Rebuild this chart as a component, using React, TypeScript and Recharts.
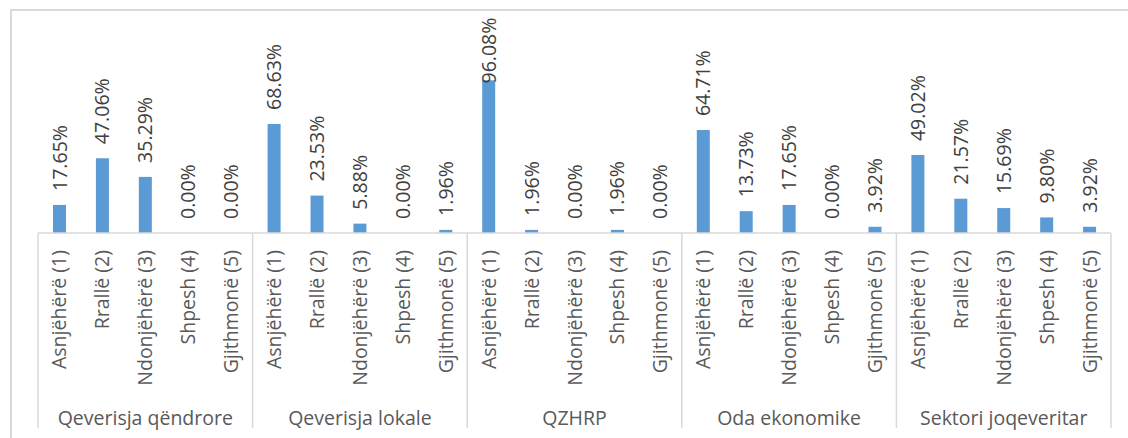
import { BarChart, Bar, XAxis, YAxis, LabelList } from 'recharts';

const groups = ['Qeverisja qëndrore', 'Qeverisja lokale', 'QZHRP', 'Oda ekonomike', 'Sektori joqeveritar'];
const categories = ['Asnjëhërë (1)', 'Rrallë (2)', 'Ndonjëhërë (3)', 'Shpesh (4)', 'Gjithmonë (5)'];

const qeverisjaQendrore = [17.65, 47.06, 35.29, 0.0, 0.0];
const qeverisjaLokale = [68.63, 23.53, 5.88, 0.0, 1.96];
const qzhrp = [96.08, 1.96, 0.0, 1.96, 0.0];
const odaEkonomike = [64.71, 13.73, 17.65, 0.0, 3.92];
const sektoriJoqeveritar = [49.02, 21.57, 15.69, 9.8, 3.92];

const seriesByGroup = [qeverisjaQendrore, qeverisjaLokale, qzhrp, odaEkonomike, sektoriJoqeveritar];

const data = groups.flatMap((g, gi) =>
  categories.map((c, ci) => ({ key: `${gi}-${ci}`, group: g, cat: c, value: seriesByGroup[gi][ci] }))
);

const FONT = '"Open Sans", sans-serif';
const FS = 19.5;
const BORDER = '#d9d9d9';

// rough width of a percentage label in Open Sans
const labelWidth = (s: string) =>
  s.split('').reduce((w, ch) => w + (ch === '.' ? 0.266 : ch === '%' ? 0.857 : 0.572), 0) * FS;

const PctLabel = (props: any) => {
  const { x, y, width, height, value } = props;
  const text = `${Number(value).toFixed(2)}%`;
  const cx = x + width / 2;
  const top = height < 0 ? y + height : y;
  const len = labelWidth(text);
  let bottom = top - 14;
  if (bottom - len < 17) bottom = 17 + len;
  return (
    <text
      transform={`translate(${cx},${bottom}) rotate(-90)`}
      dy="0.36em"
      textAnchor="start"
      fontFamily={FONT}
      fontSize={FS}
      fill="#404040"
    >
      {text}
    </text>
  );
};

const CatTick = (props: any) => {
  const { x, y, payload, width, visibleTicksCount } = props;
  const idx = payload.index;
  const half = payload.offset ?? width / visibleTicksCount / 2;
  const groupIdx = Math.floor(idx / categories.length);
  const pos = idx % categories.length;
  return (
    <g>
      {pos === 0 && <line x1={x - half} x2={x - half} y1={y} y2={y + 195} stroke={BORDER} strokeWidth={1.5} />}
      {idx === data.length - 1 && (
        <line x1={x + half} x2={x + half} y1={y} y2={y + 195} stroke={BORDER} strokeWidth={1.5} />
      )}
      <text
        transform={`translate(${x},${y + 17}) rotate(-90)`}
        dy="0.36em"
        textAnchor="end"
        fontFamily={FONT}
        fontSize={FS}
        fill="#595959"
      >
        {payload.value}
      </text>
      {pos === 2 && (
        <text x={x} y={y + 185} dy="0.36em" textAnchor="middle" fontFamily={FONT} fontSize={FS} fill="#595959">
          {groups[groupIdx]}
        </text>
      )}
    </g>
  );
};

export default function App() {
  return (
    <div style={{ position: 'absolute', left: 0, top: 0, width: 1128, height: 438, background: '#fff', overflow: 'hidden' }}>
      <div
        style={{
          position: 'absolute',
          left: 10,
          top: 9,
          width: 1200,
          height: 500,
          border: `2px solid ${BORDER}`,
          boxSizing: 'border-box',
        }}
      />
      <div style={{ position: 'absolute', left: 0, top: 0 }}>
        <BarChart width={1128} height={438} data={data} margin={{ top: 74, right: 17, bottom: 0, left: 38 }} barSize={13}>
          <XAxis
            dataKey="cat"
            interval={0}
            height={205}
            tickLine={false}
            tickSize={0}
            tickMargin={0}
            axisLine={{ stroke: BORDER, strokeWidth: 1.5 }}
            tick={<CatTick />}
          />
          <YAxis hide domain={[0, 100]} />
          <Bar dataKey="value" fill="#5b9bd5" minPointSize={0.001} isAnimationActive={false}>
            <LabelList dataKey="value" content={<PctLabel />} />
          </Bar>
        </BarChart>
      </div>
    </div>
  );
}
